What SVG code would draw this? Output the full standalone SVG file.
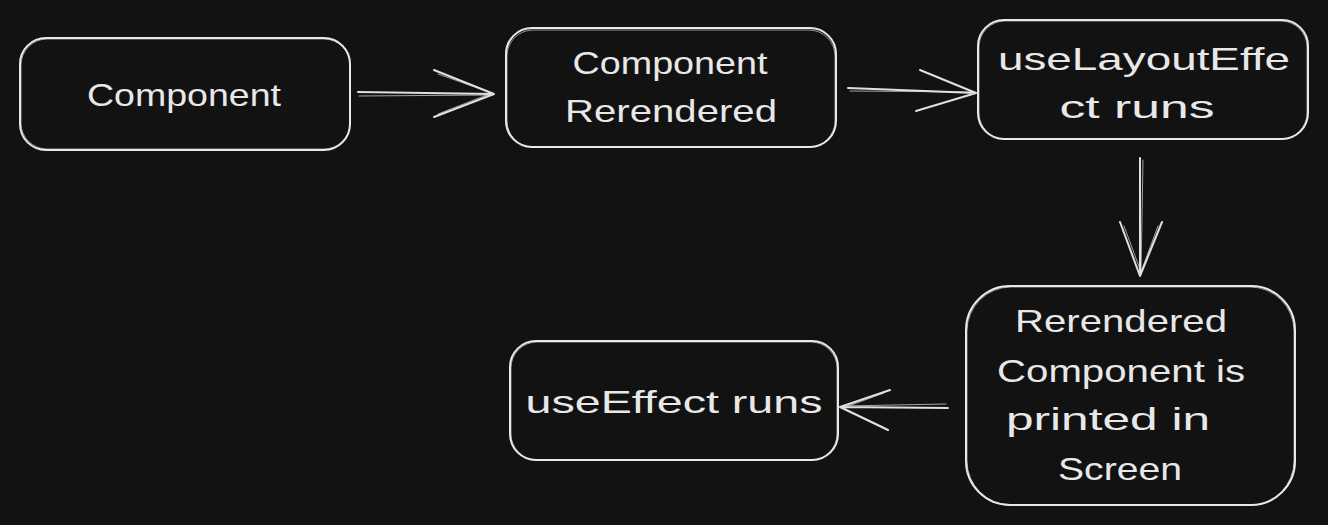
<svg xmlns="http://www.w3.org/2000/svg" width="1328" height="525" viewBox="0 0 1328 525">
<style>
.box{fill:#121212;stroke:#e8e8e8;stroke-width:2}
.box2{fill:none;stroke:#e8e8e8;stroke-width:1;opacity:0.6}
.lbl{font-family:"Liberation Sans",Arial,sans-serif;font-size:32px;fill:#e8e8e8;text-anchor:middle}
.conn{fill:none;stroke:#e0e0e0;stroke-width:2;stroke-linecap:round;stroke-linejoin:round}
.conn2{fill:none;stroke:#e0e0e0;stroke-width:1;opacity:0.7;stroke-linecap:round}
</style>
<rect width="1328" height="525" fill="#121212"/>
<g id="connectors">
  <path class="conn" d="M358 92 L494 94 M434 70 L494 94 L434 117"/>
  <path class="conn2" d="M359 96 L492 95 M438 74 L492 93 L438 114"/>
  <path class="conn" d="M848 88 L976 93 M920 70 L976 93 L916 111"/>
  <path class="conn2" d="M850 91 L974 92"/>
  <path class="conn" d="M1140 158 L1140 276 M1120 222 L1140 276 L1162 222"/>
  <path class="conn2" d="M1143 160 L1141 274 M1124 226 L1141 272 L1158 226"/>
  <path class="conn" d="M948 408 L840 407 M890 390 L840 407 L888 430"/>
  <path class="conn2" d="M946 404 L842 406 M884 393 L843 408 L885 428"/>
</g>
<g id="node-component">
  <rect class="box" x="20" y="38" width="330" height="112" rx="26"/>
  <rect class="box2" x="21" y="39" width="329" height="110" rx="26"/>
  <text class="lbl" x="184" y="106" textLength="194" lengthAdjust="spacingAndGlyphs">Component</text>
</g>
<g id="node-rerendered">
  <rect class="box" x="506" y="28" width="330" height="119" rx="26"/>
  <rect class="box2" x="507" y="30" width="328" height="117" rx="26"/>
  <text class="lbl" x="670" y="74" textLength="195" lengthAdjust="spacingAndGlyphs">Component</text>
  <text class="lbl" x="671" y="122" textLength="212" lengthAdjust="spacingAndGlyphs">Rerendered</text>
</g>
<g id="node-uselayouteffect">
  <rect class="box" x="978" y="20" width="330" height="119" rx="26"/>
  <rect class="box2" x="979" y="21" width="328" height="118" rx="26"/>
  <text class="lbl" x="1144" y="70" textLength="292" lengthAdjust="spacingAndGlyphs">useLayoutEffe</text>
  <text class="lbl" x="1137" y="118" textLength="155" lengthAdjust="spacingAndGlyphs">ct runs</text>
</g>
<g id="node-printed">
  <rect class="box" x="966" y="286" width="329" height="219" rx="44"/>
  <rect class="box2" x="967" y="287" width="327" height="218" rx="44"/>
  <text class="lbl" x="1121" y="332" textLength="212" lengthAdjust="spacingAndGlyphs">Rerendered</text>
  <text class="lbl" x="1121" y="382" textLength="248" lengthAdjust="spacingAndGlyphs">Component is</text>
  <text class="lbl" x="1108" y="430" textLength="204" lengthAdjust="spacingAndGlyphs">printed in</text>
  <text class="lbl" x="1120" y="480" textLength="124" lengthAdjust="spacingAndGlyphs">Screen</text>
</g>
<g id="node-useeffect">
  <rect class="box" x="510" y="341" width="328" height="119" rx="26"/>
  <rect class="box2" x="511" y="342" width="326" height="118" rx="26"/>
  <text class="lbl" x="674" y="413" textLength="297" lengthAdjust="spacingAndGlyphs">useEffect runs</text>
</g>
</svg>
